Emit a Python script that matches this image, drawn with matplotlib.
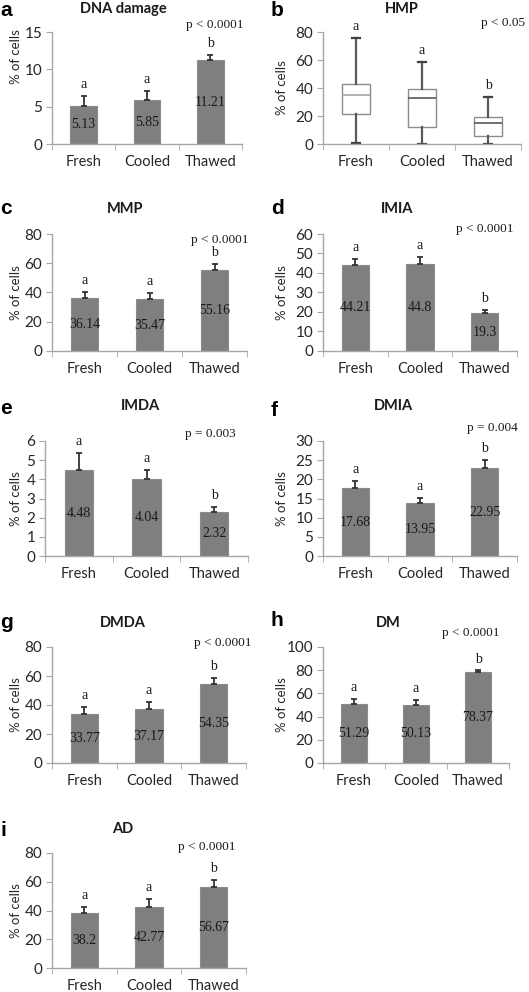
import numpy as np
import matplotlib
matplotlib.use('Agg')
import matplotlib.pyplot as plt

# ---- data ----
groups = ['Fresh', 'Cooled', 'Thawed']

dna_damage = [5.13, 5.85, 11.21]
dna_damage_err = [1.35, 1.2, 0.7]

# HMP box plot: whisker low, Q1, median, Q3, whisker high
hmp_low = [1, 0, 0]
hmp_q1 = [21.5, 12.5, 5.5]
hmp_med = [35, 33, 15]
hmp_q3 = [43, 39.5, 19]
hmp_high = [75.5, 58.5, 33.5]

mmp = [36.14, 35.47, 55.16]
mmp_err = [4.0, 4.0, 4.2]

imia = [44.21, 44.8, 19.3]
imia_err = [3.2, 3.5, 1.6]

imda = [4.48, 4.04, 2.32]
imda_err = [0.88, 0.47, 0.25]

dmia = [17.68, 13.95, 22.95]
dmia_err = [1.9, 1.2, 2.2]

dmda = [33.77, 37.17, 54.35]
dmda_err = [5.0, 5.0, 4.5]

dm = [51.29, 50.13, 78.37]
dm_err = [3.8, 4.2, 1.4]

ad = [38.2, 42.77, 56.67]
ad_err = [4.4, 5.0, 4.5]

letters_ab = ['a', 'a', 'b']
letters_hmp = ['a', 'a', 'b']
letters_imia = ['a', 'a', 'b']

W, H = 529, 992
fig = plt.figure(figsize=(W / 100, H / 100), dpi=100)

AXC = '#a6a6a6'
BAR = '#7f7f7f'
TXT = '#262626'
SANS = ['Lato', 'DejaVu Sans']
SERIF = ['Liberation Serif', 'DejaVu Serif']


def px_axes(x0, y0, x1, y1):
    ax = fig.add_axes([x0 / W, 1 - y1 / H, (x1 - x0) / W, (y1 - y0) / H])
    ax._px = (x0, x1)
    return ax


def style(ax, ymax, ystep, ylab_y=0.5):
    ax.set_xlim(-0.5, 2.5)
    ax.set_ylim(0, ymax)
    ax.set_yticks(np.arange(0, ymax + ystep / 2, ystep))
    for s in ['top', 'right']:
        ax.spines[s].set_visible(False)
    for s in ['left', 'bottom']:
        ax.spines[s].set_color(AXC)
        ax.spines[s].set_linewidth(1.0)
    ax.set_xticks(range(3))
    ax.set_xticklabels(groups, fontfamily=SANS, fontsize=10.5, color=TXT)
    ax.set_xticks([-0.5, 0.5, 1.5, 2.5], minor=True)
    ax.tick_params(axis='x', which='major', length=0, pad=8)
    ax.tick_params(axis='x', which='minor', length=4, color=AXC, direction='out')
    ax.tick_params(axis='y', length=4, color=AXC, direction='out', pad=3,
                   labelsize=11, labelcolor=TXT)
    for lab in ax.get_yticklabels():
        lab.set_fontfamily(SANS)
    ax.set_ylabel('% of cells', fontfamily=SANS, fontsize=9.5, color=TXT)
    # label's right edge sits about 22 px from the panel column's left edge
    x0, x1 = ax._px
    col = 0 if x0 < 264 else 266
    ax.yaxis.set_label_coords(-(x0 - (col + 22)) / (x1 - x0), ylab_y)


def bars(ax, vals, errs, letters, ymax, ystep, ylab_y=0.5):
    x = np.arange(3)
    ax.bar(x, vals, width=0.42, color=BAR, edgecolor='#8c8c8c', linewidth=0.8, zorder=2)
    ax.errorbar(x, vals, yerr=[np.zeros(3), errs], fmt='none', ecolor='#333333',
                elinewidth=1.3, capsize=2, capthick=1.3, zorder=3)
    for xi, v, e, l in zip(x, vals, errs, letters):
        ax.text(xi, v / 2, str(v), ha='center', va='center', fontfamily=SERIF,
                fontsize=10, color='#1a1a1a', zorder=4)
        ax.annotate(l, (xi, v + e), xytext=(0, 3.5), textcoords='offset points',
                    ha='center', va='bottom', fontfamily=SERIF, fontsize=10, color='#1a1a1a')
    style(ax, ymax, ystep, ylab_y)


def head(letter, lx, ly, title, tx, ty, pval, px, py):
    fig.text(lx / W, 1 - ly / H, letter, fontfamily=['Liberation Sans', 'DejaVu Sans'],
             fontweight='bold', fontsize=15, ha='left', va='center')
    fig.text(tx / W, 1 - ty / H, title, fontfamily=SANS, fontweight='bold',
             fontsize=10.5, ha='center', va='center', color='#1a1a1a')
    fig.text(px / W, 1 - py / H, pval, fontfamily=SERIF, fontsize=9.5,
             ha='center', va='center', color='#1a1a1a')


# a  DNA damage
ax = px_axes(52, 32, 242, 144)
bars(ax, dna_damage, dna_damage_err, letters_ab, 15, 5, ylab_y=0.78)
head('a', 0, 10, 'DNA damage', 123, 9, 'p < 0.0001', 215, 25)

# b  HMP box plot
ax = px_axes(323, 32, 521, 144)
stats = []
for i in range(3):
    stats.append(dict(whislo=hmp_low[i], q1=hmp_q1[i], med=hmp_med[i],
                      q3=hmp_q3[i], whishi=hmp_high[i], label=groups[i]))
bp = ax.bxp(stats, positions=range(3), widths=0.42, showfliers=False, patch_artist=True,
            boxprops=dict(facecolor='white', edgecolor='#8c8c8c', linewidth=1.0),
            whiskerprops=dict(color='#595959', linewidth=1.6),
            capprops=dict(color='#404040', linewidth=1.6),
            medianprops=dict(color='#595959', linewidth=1.2),
            capwidths=0.12, zorder=2)
bp['medians'][0].set_color('#a6a6a6')
for xi, hi, l in zip(range(3), hmp_high, letters_hmp):
    ax.annotate(l, (xi, hi), xytext=(0, 4), textcoords='offset points', ha='center',
                va='bottom', fontfamily=SERIF, fontsize=10, color='#1a1a1a')
style(ax, 80, 20)
head('b', 271, 10, 'HMP', 402, 9, 'p < 0.05', 503, 23)

# c  MMP
ax = px_axes(52, 234, 247, 351)
bars(ax, mmp, mmp_err, letters_ab, 80, 20)
head('c', 0, 209, 'MMP', 125, 209, 'p < 0.0001', 220, 240)

# d  IMIA
ax = px_axes(323, 234, 517, 351)
bars(ax, imia, imia_err, letters_imia, 60, 10)
head('d', 271, 208, 'IMIA', 397, 209, 'p < 0.0001', 485, 229)

# e  IMDA
ax = px_axes(45, 441, 248, 556)
bars(ax, imda, imda_err, letters_imia, 6, 1)
head('e', 0, 408, 'IMDA', 140, 406, 'p = 0.003', 210, 434)

# f  DMIA
ax = px_axes(323, 441, 517, 556)
bars(ax, dmia, dmia_err, letters_ab, 30, 5)
head('f', 271, 410, 'DMIA', 393, 406, 'p = 0.004', 492, 428)

# g  DMDA
ax = px_axes(52, 647, 246, 763)
bars(ax, dmda, dmda_err, letters_ab, 80, 20)
head('g', 0, 623, 'DMDA', 123, 623, 'p < 0.0001', 223, 643)

# h  DM
ax = px_axes(323, 647, 509, 763)
bars(ax, dm, dm_err, letters_ab, 100, 20)
head('h', 271, 621, 'DM', 388, 623, 'p < 0.0001', 471, 633)

# i  AD
ax = px_axes(52, 853, 246, 968)
bars(ax, ad, ad_err, letters_ab, 80, 20)
head('i', 0, 830, 'AD', 123, 829, 'p < 0.0001', 207, 847)

fig.savefig('out.png', dpi=100)
